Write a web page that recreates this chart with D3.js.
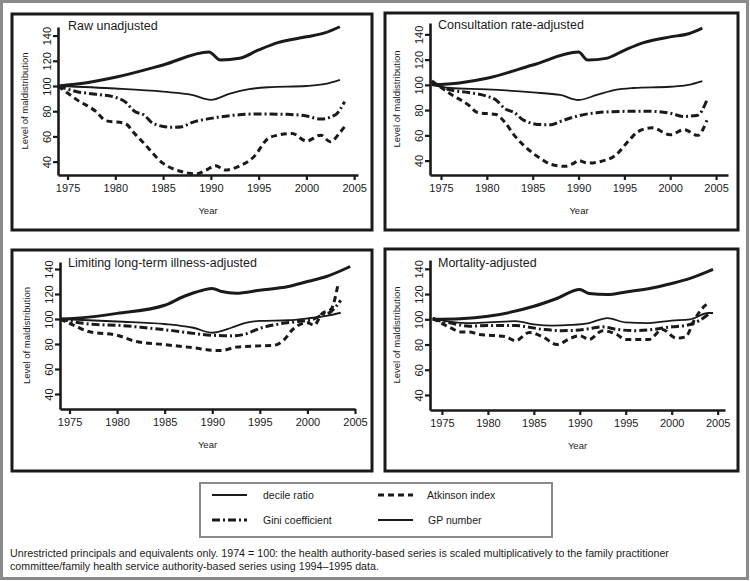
<!DOCTYPE html>
<html>
<head>
<meta charset="utf-8">
<script src="https://cdn.jsdelivr.net/npm/d3@7"></script>
<style>
  html, body { margin: 0; padding: 0; background: #fff; }
  svg { display: block; font-family: "Liberation Sans", Arial, Helvetica, sans-serif; }
</style>
</head>
<body>
<svg id="chart" width="750" height="581"></svg>
<script>
// ---------------- DATA ----------------
const panelTitles = ["Raw unadjusted", "Consultation rate-adjusted", "Limiting long-term illness-adjusted", "Mortality-adjusted"];
const seriesNames = ["decile ratio", "Atkinson index", "Gini coefficient", "GP number"];
const xTickValues = [1975, 1980, 1985, 1990, 1995, 2000, 2005];
const yTickValues = [40, 60, 80, 100, 120, 140];

// Panel 1: Raw unadjusted
const rawGP = [[1974,100],[1977,102.5],[1980,106.9],[1985,116.7],[1989.8,127],[1991,120.6],[1993,122],[1995,128.6],[1997,134.4],[2000,139],[2002,142.3],[2003.5,147]];
const rawDecile = [[1974,100],[1980,98],[1985,95.5],[1988,93],[1990,89],[1992,94],[1994,97.5],[1996,99],[2000,100],[2002,101.6],[2003.5,104.8]];
const rawGini = [[1974,100],[1976,95.5],[1978,93.4],[1980,91],[1981,87.6],[1982,80],[1983,77],[1984,70],[1986,67.2],[1987,67.7],[1988,71],[1990,74.3],[1992,76.5],[1995,77.8],[1998,77.5],[2000,76.2],[2001.5,73.8],[2003,77],[2004,87.6]];
const rawAtkinson = [[1974,100],[1976,89],[1978,79.6],[1979,72.5],[1981,70.4],[1982,62.4],[1983,54.5],[1985,38.6],[1987,32],[1988.5,30.2],[1989.5,33.3],[1990.5,36.8],[1991.5,33.3],[1993,36.5],[1994.5,43.9],[1996,58.5],[1997,61],[1998.5,62.4],[2000,56.3],[2001.5,61],[2002.5,55.8],[2003.5,63],[2004,67.7]];

// Panel 2: Consultation rate-adjusted
const conGP = [[1974,100],[1977,101.5],[1980,105.2],[1985,115.7],[1990,126],[1991,119.6],[1993,121],[1995,127.4],[1997,133.2],[2000,138],[2002,140.5],[2003.5,145]];
const conDecile = [[1974,100],[1976,97.5],[1980,96.5],[1985,94],[1988,92],[1990,88],[1992,92],[1994,96],[1996,97.5],[2000,98.5],[2002,100],[2003.5,103]];
const conGini = [[1974,102],[1976,96],[1978,94],[1980,91],[1981,88],[1982,81],[1983,78],[1984,72],[1986,68.5],[1987,68.5],[1988,71],[1990,75.5],[1992,78],[1995,79],[1998,79],[2000,77.5],[2001.5,75],[2003,76],[2004,88]];
const conAtkinson = [[1974,103],[1976,93],[1978,84],[1979,78],[1981,76.5],[1982,70],[1983,60],[1985,46],[1986,41],[1987,37],[1988.5,35.5],[1989.5,38],[1990,40],[1991,38],[1992.5,39.5],[1994,44],[1995.5,56],[1996.5,63],[1998,66],[2000,60.5],[2001.5,64.5],[2003,60],[2004,72]];

// Panel 3: Limiting long-term illness-adjusted
const lltiGP = [[1974,100],[1977,101.5],[1980,104.5],[1985,111],[1987,118],[1989,123],[1990,124.5],[1991,122],[1992.5,120.6],[1995,123],[1998,126],[2000,130],[2002,134],[2004.5,142]];
const lltiDecile = [[1974,100],[1980,98],[1985,96],[1988,93],[1990,89],[1992,93],[1993.5,97],[1995,98.5],[1998,99],[2000,100.5],[2002,102.5],[2003.5,105]];
const lltiGini = [[1974,100],[1976,97],[1978,95.5],[1980,95],[1983,93],[1986,90.5],[1988,88.5],[1990,87],[1992,86.5],[1993.5,88],[1995,92.5],[1997,96],[1999,98],[2000.5,99.5],[2001.5,103],[2002.5,106],[2003.5,115]];
const lltiAtkinson = [[1974,100],[1975,96.5],[1977,90],[1980,87],[1982,82],[1985,79.5],[1988,77],[1990,75],[1991,74.8],[1992.5,77.5],[1995,78.5],[1996.5,79],[1997.5,83],[1998.5,92],[2000,97],[2000.7,95],[2001.5,104],[2002.5,108],[2003.2,127]];

// Panel 4: Mortality-adjusted
const mortGP = [[1974,100],[1977,100.5],[1980,102.4],[1985,110.3],[1987.5,116.5],[1990,123.6],[1991,120.4],[1993,119.6],[1995,121.7],[1998,125],[2000,128.4],[2002,132.4],[2004.5,139.5]];
const mortDecile = [[1974,101],[1976,98],[1978,97],[1980,97.5],[1983,98.5],[1985,96],[1987,95],[1989,95.5],[1991,97],[1993,101],[1995,97.5],[1997.5,97],[2000,99],[2002,100],[2004,105],[2004.5,105]];
const mortGini = [[1974,100],[1976,97],[1978,94.5],[1980,95],[1983,95],[1986,92],[1988,91],[1990,91.5],[1992.5,94],[1994,92],[1996,91],[1998,92],[2000,94],[2001.5,95],[2003,99],[2004,104]];
const mortAtkinson = [[1974,101],[1976,93],[1977,90],[1978,90],[1979,88],[1981,87],[1982,86],[1983,83],[1984.5,89.5],[1986,86],[1987.5,80],[1989,85],[1990,87],[1991,84],[1992.5,91],[1994,88],[1995,84],[1997.5,84],[1999,92],[2000.5,85],[2001.5,86],[2002.5,100],[2003.5,110],[2004,113]];

const footnoteLines = [
  "Unrestricted principals and equivalents only. 1974 = 100: the health authority-based series is scaled multiplicatively to the family practitioner",
  "committee/family health service authority-based series using 1994\u20131995 data."
];

// ---------------- LAYOUT ----------------
const panelData = [
  {decile: rawDecile, atkinson: rawAtkinson, gini: rawGini, gp: rawGP},
  {decile: conDecile, atkinson: conAtkinson, gini: conGini, gp: conGP},
  {decile: lltiDecile, atkinson: lltiAtkinson, gini: lltiGini, gp: lltiGP},
  {decile: mortDecile, atkinson: mortAtkinson, gini: mortGini, gp: mortGP}
];
const layouts = [
  {box:[12,14,372,230], x0:58, x1:358, xd:[1974.0,2005.4], y0:175, y1:27, yd:[29.4,146.8], tx:68, ty:30},
  {box:[385,13,738,230], x0:430, x1:728, xd:[1973.8,2006.3], y0:175, y1:23, yd:[28.6,149], tx:438, ty:29},
  {box:[12,250,372,471], x0:60, x1:355, xd:[1974.0,2005.0], y0:409, y1:262, yd:[28,145.6], tx:68, ty:267},
  {box:[385,249,738,471], x0:430, x1:725, xd:[1973.7,2005.8], y0:410, y1:260, yd:[28.1,147], tx:438, ty:267}
];

const styles = {
  gp:       {width: 3,   dash: null},
  decile:   {width: 1.8, dash: null},
  gini:     {width: 3,   dash: "8,3,2,3"},
  atkinson: {width: 3,   dash: "6,4"}
};
const ink = "#1a1a1a";

const svg = d3.select("#chart");

// outer gray frame
svg.append("rect").attr("x",1.5).attr("y",1.5).attr("width",746).attr("height",577)
  .attr("fill","#fff").attr("stroke","#8a8a8a").attr("stroke-width",3);

layouts.forEach((L, i) => {
  const g = svg.append("g");
  const [bx0, by0, bx1, by1] = L.box;
  g.append("rect").attr("x",bx0).attr("y",by0).attr("width",bx1-bx0).attr("height",by1-by0)
    .attr("fill","#fff").attr("stroke",ink).attr("stroke-width",3);

  const x = d3.scaleLinear().domain(L.xd).range([L.x0, L.x1]);
  const y = d3.scaleLinear().domain(L.yd).range([L.y0, L.y1]);

  // x axis
  const xa = g.append("g").attr("transform",`translate(0,${L.y0})`)
    .call(d3.axisBottom(x).tickValues(xTickValues).tickFormat(d3.format("d")).tickSize(5).tickSizeOuter(0).tickPadding(4));
  xa.select(".domain").attr("stroke",ink).attr("stroke-width",2.6);
  xa.selectAll(".tick line").attr("stroke",ink).attr("stroke-width",2.2);
  xa.selectAll("text").attr("font-size",11).attr("fill",ink).attr("font-family","Liberation Sans, Arial, sans-serif");

  // y axis
  const ya = g.append("g").attr("transform",`translate(${L.x0},0)`)
    .call(d3.axisLeft(y).tickValues(yTickValues).tickSize(5).tickSizeOuter(0));
  ya.select(".domain").attr("stroke",ink).attr("stroke-width",2.6);
  ya.selectAll(".tick line").attr("stroke",ink).attr("stroke-width",2.2);
  ya.selectAll("text").attr("font-size",11).attr("fill",ink).attr("font-family","Liberation Sans, Arial, sans-serif")
    .attr("transform","rotate(-90)").attr("x",0).attr("y",-7).attr("dy",0).attr("text-anchor","middle");

  // axis labels
  g.append("text").attr("x",(L.x0+L.x1)/2).attr("y",L.y0+39).attr("text-anchor","middle")
    .attr("font-size",9.5).attr("fill",ink).text("Year");
  g.append("text").attr("transform",`translate(${L.x0-30},${(L.y0+L.y1)/2}) rotate(-90)`)
    .attr("text-anchor","middle").attr("font-size",9.5).attr("fill",ink).text("Level of maldistribution");

  // title
  g.append("text").attr("x",L.tx).attr("y",L.ty).attr("font-size",12.5).attr("fill",ink).text(panelTitles[i]);

  // lines
  const line = d3.line().x(d => x(d[0])).y(d => y(d[1])).curve(d3.curveMonotoneX);
  ["decile","gini","atkinson","gp"].forEach(k => {
    g.append("path").datum(panelData[i][k]).attr("d", line)
      .attr("fill","none").attr("stroke",ink).attr("stroke-width",styles[k].width)
      .attr("stroke-dasharray",styles[k].dash).attr("stroke-linejoin","round");
  });
});

// legend
const lg = svg.append("g");
lg.append("rect").attr("x",200).attr("y",483).attr("width",352).attr("height",54)
  .attr("fill","#fff").attr("stroke","#8a8a8a").attr("stroke-width",2);
const legendItems = [
  {name: seriesNames[0], key:"decile",   lx:212, tx:263, y:495, w:1.8},
  {name: seriesNames[2], key:"gini",     lx:212, tx:263, y:520, w:3},
  {name: seriesNames[1], key:"atkinson", lx:378, tx:427, y:495, w:3},
  {name: seriesNames[3], key:"gp",       lx:378, tx:428, y:520, w:1.8}
];
legendItems.forEach(it => {
  lg.append("line").attr("x1",it.lx).attr("x2",it.lx+35).attr("y1",it.y).attr("y2",it.y)
    .attr("stroke",ink).attr("stroke-width",it.w).attr("stroke-dasharray",styles[it.key].dash);
  lg.append("text").attr("x",it.tx).attr("y",it.y+4).attr("font-size",10.5).attr("fill",ink).text(it.name);
});

// footnote
footnoteLines.forEach((t, j) => {
  svg.append("text").attr("x",10).attr("y",557 + j*13).attr("font-size",10.7).attr("fill",ink).text(t);
});
</script>
</body>
</html>
